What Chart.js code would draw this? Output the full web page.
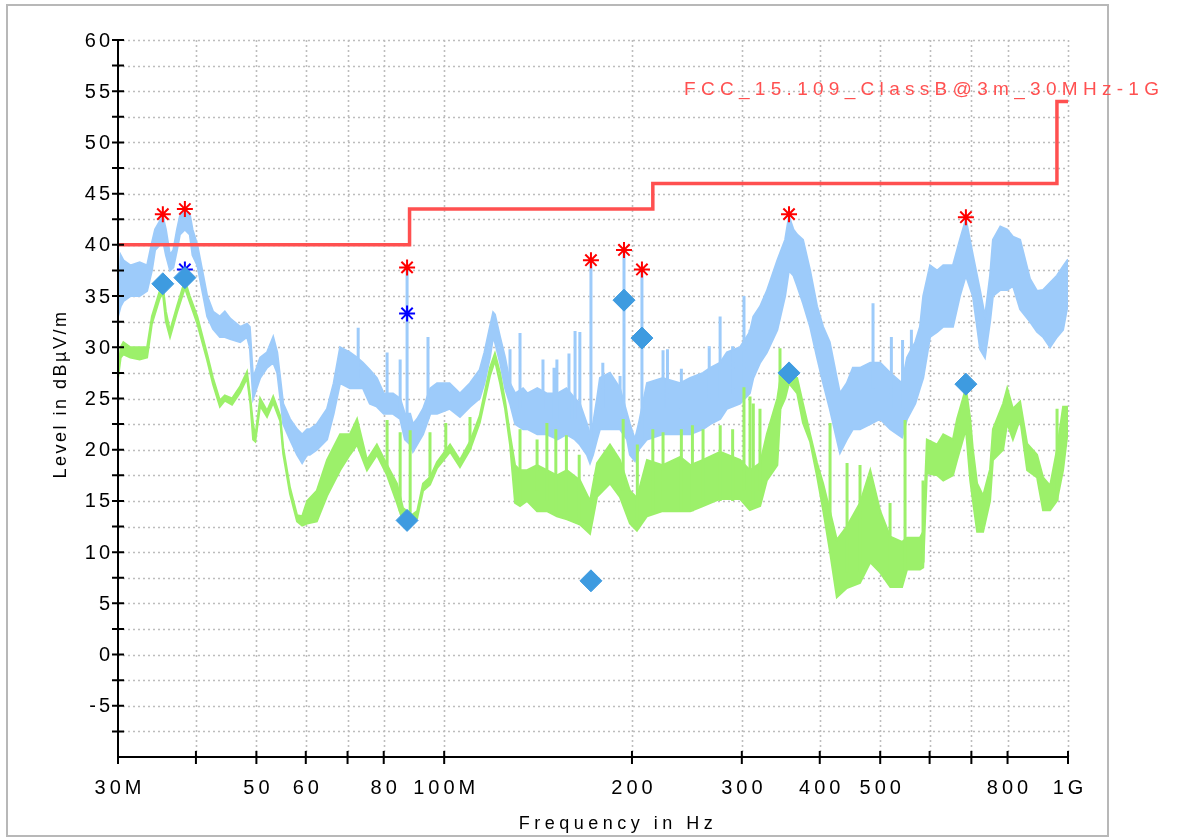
<!DOCTYPE html>
<html>
<head>
<meta charset="utf-8">
<script src="https://cdn.jsdelivr.net/npm/chart.js@4.4.1/dist/chart.umd.min.js"></script>
<style>
  html, body { margin: 0; padding: 0; background: #fff; }
  canvas { display: block; }
</style>
</head>
<body>
<canvas id="emc" width="1178" height="838"></canvas>
<script>
// frequencies in MHz, levels in dBuV/m

// peak trace (light blue), drawn as a band between upper and lower edge
const peakFreq = [
  30, 30.3, 30.6, 31.4, 32.5, 33.4, 34.0, 34.4, 35.0, 35.4,
  35.8, 36.35, 36.8, 37.3, 37.7, 38.4, 39.1, 39.5, 40.2, 41.1,
  41.7, 42.6, 43.7, 44.5, 45.4, 47.1, 48.3, 48.8, 49.4, 50.7,
  52.0, 53.2, 54.0, 54.6, 55.2, 56.6, 58.1, 59.2, 60.3, 60.9,
  62.5, 64.9, 66.5, 68.1, 70.6, 72.5, 74.1, 76, 78, 80,
  82.8, 85, 86.5, 88.2, 89.1, 90.5, 92.5, 95, 97.4, 102,
  106, 110, 114, 116, 118.4, 119.8, 120.6, 122.9, 125.2, 127.5,
  130, 133.8, 136, 141, 146, 152, 157, 162, 165, 169.4,
  171.3, 173.2, 175.8, 177.7, 184.4, 191.3, 196.4, 198.5, 202.2, 205,
  211.4, 224, 239, 248, 260, 267, 277, 284, 298, 309,
  313, 321, 329, 342, 352, 357, 363, 368, 376, 386,
  396, 405, 415, 426, 431, 442, 452, 464, 482, 500,
  519, 542, 552, 569, 579, 586, 601, 617, 631, 654,
  671, 686, 704, 723, 736, 750, 758, 779, 799, 816,
  838, 869, 892, 912, 936, 960, 982, 1000
];
const peakHi = [
  34.0, 39.0, 38.5, 38.0, 38.3, 38.0, 40.2, 41.5, 42.3, 42.8,
  41.5, 39.0, 39.5, 41.5, 42.8, 43.3, 43.0, 41.5, 40.0, 37.0,
  35.0, 33.5, 33.0, 33.5, 32.8, 32.0, 32.3, 32.0, 27.0, 29.0,
  29.5, 31.0, 29.5, 27.0, 24.5, 23.0, 22.0, 21.5, 22.0, 22.0,
  22.5, 24.0, 26.5, 30.0, 29.5, 29.0, 28.5, 27.8, 27.0, 25.5,
  25.5, 25.0, 23.5, 23.5, 22.5, 23.0, 24.0, 26.0, 26.5, 26.5,
  25.5, 26.5, 27.8, 29.5, 32.0, 33.4, 33.2, 31.0, 29.0, 26.5,
  25.5, 26.0, 25.5, 26.0, 25.5, 25.5, 26.0, 25.0, 24.5, 22.5,
  21.5, 22.5, 25.0, 27.0, 27.5, 26.0, 23.5, 22.5, 21.0, 22.5,
  26.5, 27.0, 26.5, 27.0, 27.5, 28.0, 28.5, 29.5, 30.0, 31.5,
  33.0, 34.0, 35.5, 38.5, 40.5, 42.8, 41.5, 41.0, 40.5, 37.5,
  34.0, 32.0, 30.5, 27.0, 25.5, 26.5, 28.0, 28.0, 28.5, 28.5,
  27.5, 26.5, 29.0, 30.5, 32.0, 35.0, 38.0, 37.5, 38.0, 38.0,
  40.5, 42.5, 39.0, 35.5, 33.0, 37.0, 40.5, 41.8, 41.5, 40.8,
  40.5, 36.7, 35.5, 35.6, 36.3, 37.0, 37.9, 38.6
];
const peakLo = [
  33.0, 34.0, 34.5, 35.0, 35.0, 35.5, 37.5, 39.5, 40.0, 40.5,
  39.0, 37.5, 37.8, 39.5, 41.0, 41.5, 41.0, 39.0, 38.0, 35.0,
  33.0, 31.8, 31.0, 31.0, 30.8, 30.5, 31.0, 30.0, 25.0, 27.0,
  28.0, 28.5, 27.5, 25.0, 22.5, 21.0, 19.5, 18.7, 19.5, 19.5,
  20.0, 21.0, 23.5, 26.5, 26.0, 26.0, 26.0, 24.5, 24.2, 23.5,
  23.5, 23.0, 21.0, 20.5, 19.8, 20.5, 21.5, 23.5, 23.5, 24.0,
  23.2, 24.2, 25.0, 26.5, 29.0, 31.0, 30.5, 28.5, 26.0, 24.5,
  22.5, 22.0, 22.0, 21.5, 21.5, 21.0, 21.5, 21.0, 20.5, 19.5,
  18.7, 19.5, 21.0, 22.0, 22.0, 22.0, 21.0, 19.5, 18.9, 20.0,
  21.0, 21.5, 21.5, 21.5, 22.0, 22.5, 23.0, 24.0, 24.5, 25.5,
  27.0, 28.5, 29.5, 31.7, 35.0, 37.5, 37.0, 36.0, 34.3, 32.0,
  29.0, 26.5, 24.0, 21.0, 19.7, 21.0, 22.0, 22.0, 22.5, 23.0,
  22.0, 21.2, 23.0, 24.5, 26.0, 27.0, 31.0, 31.5, 32.0, 32.0,
  35.0, 37.0, 35.0, 29.8, 29.0, 32.5, 35.0, 35.6, 35.6, 36.0,
  33.7, 32.5, 31.5, 31.0, 30.0, 31.0, 31.7, 34.3
];
// narrow peaks sticking out of the peak trace
const peakSpikeFreq = [72.8, 81.0, 85.0, 87.2, 94.2, 127.5, 132.3, 144, 150, 151.6,
  158.5, 162.1, 165, 171.9, 179.6, 191.4, 194.2, 207.5, 224.3, 228,
  240, 266, 276.9, 290, 302.4, 309.2, 486.9, 521, 543, 561];
const peakSpikeBase = [27, 24, 23, 22, 23, 25, 24, 24, 23, 23,
  23, 23, 22, 20, 24, 23, 22, 21, 24, 24,
  23, 25, 25, 25.5, 26, 27, 26, 24, 24, 25];
const peakSpikeTop  = [31.9, 29.5, 28.8, 37.8, 31.0, 29.8, 31.4, 28.8, 28.0, 28.8,
  29.4, 31.6, 31.5, 38.5, 28.5, 27.2, 39.5, 37.6, 29.7, 29.8,
  27.9, 30.1, 33.0, 30.1, 35.0, 31.7, 34.3, 31.0, 30.7, 31.7];

// average trace (light green)
const avgFreq = [
  30, 30.3, 30.6, 31.4, 32.5, 33.4, 34.0, 35.0, 35.4, 35.8,
  36.35, 37.3, 38.4, 39.1, 40.2, 41.7, 42.6, 43.7, 44.5, 45.7,
  47.1, 48.3, 48.9, 49.4, 49.8, 50.7, 52.0, 53.2, 54.6, 55.2,
  56.6, 58.1, 59.2, 60.3, 62.5, 64.9, 68.1, 70.6, 72.5, 75.2,
  78.0, 81.0, 84.0, 85.9, 87.2, 88.2, 90.5, 92.5, 94.9, 97.4,
  102.2, 106, 110, 114, 118.4, 120.6, 122.9, 125.2, 127.5, 129.9,
  132.3, 135.8, 140.9, 146.1, 151.6, 157.3, 165.1, 171.3, 175.8, 184.4,
  191.3, 198.5, 203.7, 211.4, 224, 239, 248, 260, 277, 298,
  309, 321, 329, 342, 346, 352, 357, 368, 376, 386,
  396, 405, 415, 426, 442, 464, 482, 500, 519, 542,
  552, 579, 586, 594, 617, 631, 654, 664, 686, 697,
  704, 715, 731, 750, 758, 787, 799, 816, 838, 860,
  892, 912, 936, 960, 982, 1000
];
const avgHi = [
  27.5, 30.0, 30.5, 30.0, 30.0, 30.0, 33.0, 35.5, 36.0, 33.5,
  31.6, 34.0, 36.5, 35.0, 33.0, 29.3, 27.0, 24.8, 25.3, 25.0,
  26.2, 27.6, 25.0, 22.5, 21.3, 25.0, 23.8, 25.2, 23.3, 20.2,
  16.3, 13.6, 13.5, 15.0, 16.0, 19.0, 21.5, 21.5, 23.0, 19.0,
  20.5, 18.5, 16.7, 14.3, 14.0, 13.5, 14.0, 16.7, 17.3, 18.8,
  20.5, 19.0, 20.8, 23.3, 28.0, 29.4, 27.5, 24.8, 21.5, 18.5,
  18.0, 18.0, 18.5, 18.0, 17.5, 18.0, 17.0, 15.0, 18.7, 20.5,
  19.0, 16.0, 15.3, 19.0, 18.5, 19.3, 18.5, 19.0, 19.8, 19.0,
  18.0, 18.7, 21.5, 25.0, 27.0, 27.0, 27.3, 27.0, 24.5, 21.5,
  18.7, 16.7, 14.1, 11.2, 12.5, 14.8, 18.0, 14.0, 11.5, 11.0,
  11.4, 11.4, 12.0, 21.0, 20.5, 21.5, 21.0, 23.0, 26.0, 23.0,
  20.0, 16.7, 15.5, 18.1, 22.0, 24.5, 26.0, 24.0, 24.7, 20.6,
  19.5, 17.3, 16.5, 20.0, 24.2, 24.2
];
const avgLo = [
  27.0, 29.0, 29.3, 29.0, 28.8, 29.0, 32.3, 34.8, 35.3, 32.5,
  31.0, 33.4, 35.8, 34.4, 32.3, 28.7, 26.4, 24.2, 24.8, 24.4,
  25.6, 27.0, 24.5, 21.0, 20.8, 24.3, 23.2, 24.6, 22.8, 19.6,
  15.7, 13.0, 12.6, 12.8, 13.0, 15.5, 18.0, 19.5, 20.5, 18.0,
  19.5, 17.5, 14.8, 13.0, 12.8, 13.0, 13.3, 16.0, 16.6, 18.2,
  19.8, 18.3, 20.0, 22.6, 27.2, 28.7, 26.5, 24.0, 20.5, 14.8,
  14.5, 15.0, 14.0, 14.0, 13.5, 13.2, 12.7, 11.8, 15.4, 16.7,
  15.4, 12.8, 12.1, 13.5, 14.0, 14.0, 14.0, 14.5, 15.2, 15.2,
  14.1, 14.5, 17.0, 18.5, 24.0, 25.0, 26.5, 25.5, 22.6, 20.8,
  17.4, 14.1, 10.2, 5.6, 6.5, 7.0, 9.0, 8.0, 6.6, 6.6,
  8.3, 8.3, 8.5, 17.7, 17.5, 17.0, 17.5, 19.0, 22.0, 17.0,
  15.0, 12.0, 12.0, 15.0, 19.0, 20.0, 22.6, 21.0, 23.0, 18.0,
  17.3, 14.1, 14.1, 15.0, 18.0, 22.0
];
const avgSpikeFreq = [81.0, 85.0, 88.2, 94.9, 100.6, 110, 132.3, 140.9, 146.1, 151,
  157, 164.6, 193.6, 204, 216, 224.3, 240, 250, 260, 277,
  290, 302.4, 309.2, 313, 320.8, 345.4, 415.5, 442.4, 464.1, 518.5,
  548, 585.6, 960.4];
const avgSpikeBase = [18, 14, 13.3, 17, 19.5, 20, 15, 16, 15, 14,
  14, 13, 16, 13, 14, 15, 14, 14, 14.5, 15,
  15, 16, 16, 14.5, 16, 24, 11, 8, 8, 8,
  8, 9, 15];
const avgSpikeTop  = [22.9, 21.7, 21.9, 21.7, 22.6, 23.2, 22.0, 21.0, 22.6, 22.0,
  21.4, 19.5, 23.0, 20.5, 22.0, 21.7, 22.0, 22.4, 22.0, 22.4,
  22.0, 26.1, 25.2, 24.5, 24.0, 29.9, 22.6, 18.7, 18.5, 14.8,
  22.9, 17.0, 24.0];

// FCC 15.109 class B limit
const limitFreq  = [30, 88, 216, 960, 1000];
const limitLevel = [40, 43.5, 46, 54, 54];
const limitName = 'FCC_15.109_ClassB@3m_30MHz-1GHz';

// markers
const pkMarkFreq  = [35.4, 38.4, 87.2, 171.9, 194.2, 207.5, 357.1, 686];
const pkMarkLevel = [43.0, 43.5, 37.8, 38.5, 39.5, 37.6, 43.0, 42.7];
const avStarFreq  = [38.4, 87.2];
const avStarLevel = [37.6, 33.3];
const qpFreq  = [35.4, 38.4, 87.2, 171.9, 194.2, 207.5, 357.1, 686];
const qpLevel = [36.2, 36.8, 13.1, 7.2, 34.6, 30.9, 27.5, 26.4];

// axes
const xGrid = [40, 50, 60, 70, 80, 100, 200, 300, 400, 500, 600, 700, 800, 1000];
const xTicks = [30, 40, 50, 60, 70, 80, 100, 200, 300, 400, 500, 600, 700, 800, 1000];
const xTickLabels = {30: '30M', 50: '50', 60: '60', 80: '80', 100: '100M', 200: '200', 300: '300', 400: '400', 500: '500', 800: '800', 1000: '1G'};
const yTickLabels = [60, 55, 50, 45, 40, 35, 30, 25, 20, 15, 10, 5, 0, -5];

const FONT = '"Liberation Sans", Arial, sans-serif';
const BLUE = '#9dcbfa';
const GREEN = '#9cf06a';

function pts(xs, ys) {
  return xs.map((x, i) => ({x: x, y: ys[i]}));
}
function spikes(xs, base, top) {
  const out = [];
  xs.forEach((x, i) => {
    out.push({x: x, y: base[i]}, {x: x, y: top[i]}, {x: x, y: null});
  });
  return out;
}

function text(ctx, str, x, y, size, ls, align, color) {
  ctx.save();
  ctx.font = size + 'px ' + FONT;
  ctx.letterSpacing = ls + 'px';
  ctx.fillStyle = color;
  ctx.textAlign = align;
  ctx.textBaseline = 'middle';
  ctx.fillText(str, x, y);
  ctx.restore();
}

const emcPlot = {
  id: 'emcPlot',
  beforeDatasetsDraw(chart) {
    const {ctx, chartArea: a, scales: {x, y}} = chart;
    ctx.save();
    ctx.strokeStyle = '#bdbdbd';
    ctx.lineWidth = 1.6;
    ctx.setLineDash([2, 3]);
    ctx.beginPath();
    for (let v = -7.5; v <= 60; v += 2.5) {
      const py = Math.round(y.getPixelForValue(v)) + 0.5;
      ctx.moveTo(a.left, py); ctx.lineTo(a.right, py);
    }
    xGrid.forEach(f => {
      const px = Math.round(x.getPixelForValue(f)) + 0.5;
      ctx.moveTo(px, a.top); ctx.lineTo(px, a.bottom);
    });
    ctx.stroke();
    ctx.restore();
  },
  afterDatasetsDraw(chart) {
    const {ctx, chartArea: a, scales: {x, y}} = chart;
    ctx.save();
    ctx.strokeStyle = '#000';
    ctx.lineWidth = 2;
    ctx.beginPath();
    ctx.moveTo(a.left, a.top); ctx.lineTo(a.left, a.bottom); ctx.lineTo(a.right, a.bottom);
    for (let v = -7.5; v <= 60; v += 2.5) {
      const py = y.getPixelForValue(v);
      ctx.moveTo(a.left - 6, py); ctx.lineTo(a.left + 6, py);
    }
    xTicks.forEach(f => {
      const px = x.getPixelForValue(f);
      ctx.moveTo(px, a.bottom - 6); ctx.lineTo(px, a.bottom + 7);
    });
    ctx.stroke();

    // frame
    ctx.strokeStyle = '#b8b8b8';
    ctx.lineWidth = 2;
    ctx.strokeRect(7, 5, 1101, 831);
    ctx.restore();

    yTickLabels.forEach(v => text(ctx, String(v), a.left - 5, y.getPixelForValue(v) + 1, 20, 3, 'right', '#000'));
    xTicks.forEach(f => {
      if (xTickLabels[f]) text(ctx, xTickLabels[f], x.getPixelForValue(f) + 2, a.bottom + 31, 20, 4, 'center', '#000');
    });

    text(ctx, 'Frequency in Hz', 618, 824, 18, 4.5, 'center', '#000');
    ctx.save();
    ctx.translate(61, 394);
    ctx.rotate(-Math.PI / 2);
    text(ctx, 'Level in dBµV/m', 0, 0, 18, 2.5, 'center', '#000');
    ctx.restore();

    ctx.save();
    ctx.beginPath();
    ctx.rect(0, 0, 1163, 838);
    ctx.clip();
    text(ctx, limitName, 684, 90, 19, 5.3, 'left', '#ff5050');
    ctx.restore();
  }
};

new Chart(document.getElementById('emc'), {
  type: 'line',
  data: {
    datasets: [
      {label: 'qp', data: pts(qpFreq, qpLevel), showLine: false, pointStyle: 'rectRot', pointRadius: 11,
        backgroundColor: '#3e9be0', borderColor: '#3e9be0', borderWidth: 1, order: 0},
      {label: 'pk marks', data: pts(pkMarkFreq, pkMarkLevel), showLine: false, pointStyle: 'star', pointRadius: 8,
        borderColor: '#ff0000', borderWidth: 2, order: 0},
      {label: 'av marks', data: pts(avStarFreq, avStarLevel), showLine: false, pointStyle: 'star', pointRadius: 8,
        borderColor: '#0000ff', borderWidth: 2, order: 1},
      {label: 'limit', data: pts(limitFreq, limitLevel), stepped: 'before', borderColor: '#ff5050', borderWidth: 3.5,
        pointRadius: 0, fill: false, order: 2},
      {label: 'avg spikes', data: spikes(avgSpikeFreq, avgSpikeBase, avgSpikeTop), borderColor: GREEN, borderWidth: 3,
        pointRadius: 0, spanGaps: false, fill: false, order: 3},
      {label: 'avg hi', data: pts(avgFreq, avgHi), borderColor: GREEN, backgroundColor: GREEN, borderWidth: 2,
        pointRadius: 0, fill: '+1', order: 4},
      {label: 'avg lo', data: pts(avgFreq, avgLo), borderColor: GREEN, borderWidth: 2,
        pointRadius: 0, fill: false, order: 4},
      {label: 'peak spikes', data: spikes(peakSpikeFreq, peakSpikeBase, peakSpikeTop), borderColor: BLUE, borderWidth: 3,
        pointRadius: 0, spanGaps: false, fill: false, order: 5},
      {label: 'peak hi', data: pts(peakFreq, peakHi), borderColor: BLUE, backgroundColor: BLUE, borderWidth: 2,
        pointRadius: 0, fill: '+1', order: 6},
      {label: 'peak lo', data: pts(peakFreq, peakLo), borderColor: BLUE, borderWidth: 2,
        pointRadius: 0, fill: false, order: 6}
    ]
  },
  options: {
    responsive: false,
    animation: false,
    devicePixelRatio: 1,
    events: [],
    layout: {padding: {top: 40, right: 110, left: 0, bottom: 0}},
    elements: {line: {tension: 0}},
    plugins: {legend: {display: false}, tooltip: {enabled: false}},
    scales: {
      x: {
        type: 'logarithmic', min: 30, max: 1000,
        grid: {display: false}, border: {display: false}, ticks: {display: false},
        afterFit: s => { s.height = 81; }
      },
      y: {
        type: 'linear', min: -10, max: 60,
        grid: {display: false}, border: {display: false}, ticks: {display: false},
        afterFit: s => { s.width = 118; }
      }
    }
  },
  plugins: [emcPlot]
});
</script>
</body>
</html>
